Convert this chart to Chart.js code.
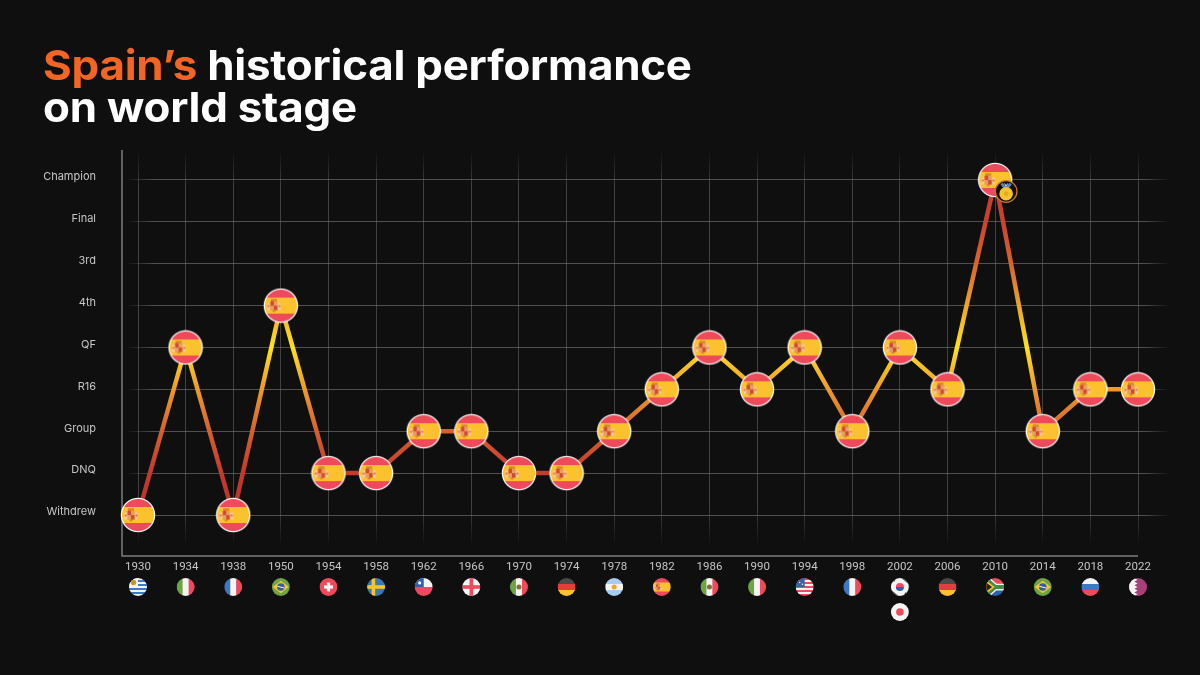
<!DOCTYPE html>
<html lang="en">
<head>
<meta charset="UTF-8">
<title>Spain's historical performance on world stage</title>
<script src="https://cdn.jsdelivr.net/npm/chart.js"></script>
<style>
    html, body { margin: 0; padding: 0; background: #0f0f10; }
    #wrap { position: relative; width: 1200px; height: 675px; overflow: hidden; }
    canvas { display: block; }
    h1 { position: absolute; left: 43px; top: 44px; margin: 0; color: #fff;
         font: 700 41px/42px Inter, sans-serif; letter-spacing: -0.2px;
         white-space: nowrap; transform: scaleX(1.07); transform-origin: left top; }
    h1 span { color: #f26522; }
</style>
</head>
<body>
<div id="wrap">
    <canvas id="chart" width="1200" height="675"></canvas>
    <h1><span>Spain’s</span> historical performance<br>on world stage</h1>
</div>
<script>
const years = ['1930','1934','1938','1950','1954','1958','1962','1966','1970','1974','1978','1982','1986','1990','1994','1998','2002','2006','2010','2014','2018','2022'];
const stages = ['Withdrew','DNQ','Group','R16','QF','4th','3rd','Final','Champion'];
const finish = [0,4,0,5,1,1,2,2,1,1,2,3,4,3,4,2,4,3,8,2,3,3];
const hosts = ['uy','it','fr','br','ch','se','cl','en','mx','de','ar','es','mx','it','us','fr','kr','de','za','br','ru','qa'];
const coHosts = { '2002': 'jp' };
const championYear = '2010';

// line colour by finish, Withdrew up to Champion
const lineColors = ['#b8322c','#c43a2b','#d2622e','#ec9a2a','#ffe21c','#eca52a','#d8642e','#c9442f','#c0362f'];

const RED = '#ee4a5c', YEL = '#fcc22d', BLUE = '#3c78c4', GREEN = '#6da544', WHITE = '#f4f4f4';

function hStripes(c, r, cols) {
    const h = 2 * r / cols.length;
    cols.forEach((col, i) => { c.fillStyle = col; c.fillRect(-r, -r + i * h, 2 * r, h + 0.5); });
}
function vStripes(c, r, cols) {
    const w = 2 * r / cols.length;
    cols.forEach((col, i) => { c.fillStyle = col; c.fillRect(-r + i * w, -r, w + 0.5, 2 * r); });
}
function dot(c, x, y, r, col) {
    c.fillStyle = col; c.beginPath(); c.arc(x, y, r, 0, Math.PI * 2); c.fill();
}
function spain(c, r) {
    hStripes(c, r, [RED, YEL, YEL, RED]);
    const s = r / 16;
    const box = (x, y, w, h, col) => { c.fillStyle = col; c.fillRect(x * s, y * s, w * s, h * s); };
    // crown
    box(-10, -6.8, 6, 2.4, '#d98a2b');
    // pillars
    box(-13.5, -2.5, 2.2, 7, '#f6cdbb');
    box(-2.6, -2.5, 2.2, 7, '#f6cdbb');
    dot(c, -12.4 * s, 0.5 * s, 1.1 * s, '#e8705a');
    dot(c, -1.5 * s, 0.5 * s, 1.1 * s, '#e8705a');
    // shield
    box(-10.5, -4.4, 7, 9, '#cf4a30');
    box(-7, -4.4, 3.5, 4.5, '#e89a68');
    box(-10.5, 0.1, 3.5, 4.4, '#e89a68');
    box(-8.4, 4.6, 2.8, 1.8, '#d98a2b');
}

const flags = {
    uy(c, r) {
        hStripes(c, r, [WHITE, BLUE, WHITE, BLUE, WHITE, BLUE, WHITE, BLUE, WHITE]);
        c.fillStyle = WHITE; c.fillRect(-r, -r, r, r);
        dot(c, -r * 0.5, -r * 0.5, r * 0.3, '#c9962d');
    },
    it(c, r) { vStripes(c, r, [GREEN, WHITE, RED]); },
    fr(c, r) { vStripes(c, r, [BLUE, WHITE, RED]); },
    br(c, r) {
        c.fillStyle = GREEN; c.fillRect(-r, -r, 2 * r, 2 * r);
        c.fillStyle = YEL; c.beginPath();
        c.moveTo(-r * 0.9, 0); c.lineTo(0, -r * 0.7); c.lineTo(r * 0.9, 0); c.lineTo(0, r * 0.7); c.fill();
        dot(c, 0, 0, r * 0.42, '#2f5f9e');
        c.strokeStyle = WHITE; c.lineWidth = 1; c.beginPath();
        c.moveTo(-r * 0.4, -r * 0.08); c.lineTo(r * 0.4, r * 0.12); c.stroke();
    },
    ch(c, r) {
        c.fillStyle = RED; c.fillRect(-r, -r, 2 * r, 2 * r);
        c.fillStyle = WHITE;
        c.fillRect(-r * 0.5, -r * 0.18, r, r * 0.36);
        c.fillRect(-r * 0.18, -r * 0.5, r * 0.36, r);
    },
    se(c, r) {
        c.fillStyle = '#3c78b4'; c.fillRect(-r, -r, 2 * r, 2 * r);
        c.fillStyle = YEL;
        c.fillRect(-r, -r * 0.2, 2 * r, r * 0.4);
        c.fillRect(-r * 0.5, -r, r * 0.4, 2 * r);
    },
    cl(c, r) {
        hStripes(c, r, [WHITE, RED]);
        c.fillStyle = '#2f5fa8'; c.fillRect(-r, -r, r, r);
        dot(c, -r * 0.45, -r * 0.45, r * 0.18, WHITE);
    },
    en(c, r) {
        c.fillStyle = WHITE; c.fillRect(-r, -r, 2 * r, 2 * r);
        c.fillStyle = RED;
        c.fillRect(-r, -r * 0.2, 2 * r, r * 0.4);
        c.fillRect(-r * 0.2, -r, r * 0.4, 2 * r);
    },
    mx(c, r) {
        vStripes(c, r, [GREEN, WHITE, RED]);
        dot(c, 0, 0, r * 0.28, '#8a6a3a');
    },
    de(c, r) { hStripes(c, r, ['#4a4a4a', '#e0403a', YEL]); },
    ar(c, r) {
        hStripes(c, r, ['#a4cdf0', WHITE, '#a4cdf0']);
        dot(c, 0, 0, r * 0.28, '#e8a92d');
    },
    es(c, r) { spain(c, r); },
    us(c, r) {
        hStripes(c, r, [RED, WHITE, RED, WHITE, RED, WHITE, RED, WHITE, RED]);
        c.fillStyle = '#3c5fa8'; c.fillRect(-r, -r, r, r);
        dot(c, -r * 0.55, -r * 0.5, 0.7, WHITE);
        dot(c, -r * 0.25, -r * 0.3, 0.7, WHITE);
    },
    kr(c, r) {
        c.fillStyle = WHITE; c.fillRect(-r, -r, 2 * r, 2 * r);
        c.fillStyle = RED; c.beginPath(); c.arc(0, 0, r * 0.45, Math.PI, 0); c.fill();
        c.fillStyle = '#2f5fa8'; c.beginPath(); c.arc(0, 0, r * 0.45, 0, Math.PI); c.fill();
        c.strokeStyle = '#333'; c.lineWidth = 1.6;
        [[-1, -1], [1, -1], [-1, 1], [1, 1]].forEach(p => {
            c.beginPath();
            c.moveTo(p[0] * r * 0.78 - p[1] * r * 0.2, p[1] * r * 0.62 + p[0] * r * 0.2);
            c.lineTo(p[0] * r * 0.5 + p[1] * r * 0.2, p[1] * r * 0.82 - p[0] * r * 0.2);
            c.stroke();
        });
    },
    za(c, r) {
        hStripes(c, r, [RED, '#2f5fa8']);
        c.lineJoin = 'miter';
        c.strokeStyle = WHITE; c.lineWidth = r * 0.75; yShape(c, r);
        c.strokeStyle = '#3f8f4a'; c.lineWidth = r * 0.45; yShape(c, r);
        c.fillStyle = YEL; c.beginPath();
        c.moveTo(-r, -r * 0.72); c.lineTo(-r * 0.05, 0); c.lineTo(-r, r * 0.72); c.fill();
        c.fillStyle = '#222'; c.beginPath();
        c.moveTo(-r, -r * 0.5); c.lineTo(-r * 0.35, 0); c.lineTo(-r, r * 0.5); c.fill();
    },
    ru(c, r) { hStripes(c, r, [WHITE, BLUE, RED]); },
    qa(c, r) {
        c.fillStyle = '#a8407a'; c.fillRect(-r, -r, 2 * r, 2 * r);
        c.fillStyle = WHITE; c.beginPath(); c.moveTo(-r, -r);
        const n = 5, x0 = -r * 0.4, x1 = -r * 0.05;
        c.lineTo(x0, -r);
        for (let i = 0; i < n; i++) {
            c.lineTo(x1, -r + (i + 0.5) * 2 * r / n);
            c.lineTo(x0, -r + (i + 1) * 2 * r / n);
        }
        c.lineTo(-r, r); c.fill();
    },
    jp(c, r) {
        c.fillStyle = WHITE; c.fillRect(-r, -r, 2 * r, 2 * r);
        dot(c, 0, 0, r * 0.42, RED);
    }
};
function yShape(c, r) {
    c.beginPath();
    c.moveTo(-r, -r * 0.9); c.lineTo(0, 0); c.lineTo(r, 0);
    c.moveTo(-r, r * 0.9); c.lineTo(0, 0);
    c.stroke();
}

function drawFlag(c, code, x, y, r) {
    c.save();
    c.translate(x, y);
    c.beginPath(); c.arc(0, 0, r, 0, Math.PI * 2); c.clip();
    flags[code](c, r);
    c.restore();
}

// marker used for every point, drawn large then shrunk so the crest stays soft
const big = document.createElement('canvas');
big.width = 144; big.height = 144;
const bc = big.getContext('2d');
bc.scale(4, 4);
dot(bc, 18, 18, 17.2, '#ffffff');
drawFlag(bc, 'es', 18, 18, 16);
const marker = document.createElement('canvas');
marker.width = 36; marker.height = 36;
const mc = marker.getContext('2d');
mc.imageSmoothingQuality = 'high';
mc.drawImage(big, 0, 0, 36, 36);

const axisLines = {
    id: 'axisLines',
    beforeDatasetsDraw(chart) {
        const c = chart.ctx, xs = chart.scales.x, a = chart.chartArea;
        c.save();
        c.strokeStyle = '#7d7d7d';
        c.lineWidth = 1.5;
        c.beginPath();
        c.moveTo(a.left, a.top);
        c.lineTo(a.left, a.bottom);
        c.lineTo(xs.getPixelForValue(years.length - 1), a.bottom);
        c.stroke();
        c.restore();
    }
};

const hostFlags = {
    id: 'hostFlags',
    afterDraw(chart) {
        const c = chart.ctx, xs = chart.scales.x;
        hosts.forEach((code, i) => {
            const x = xs.getPixelForValue(i);
            drawFlag(c, code, x, 587, 9);
            if (coHosts[years[i]]) drawFlag(c, coHosts[years[i]], x, 612, 9);
        });
    }
};

const medal = {
    id: 'medal',
    afterDatasetsDraw(chart) {
        const c = chart.ctx, i = years.indexOf(championYear);
        const x = chart.scales.x.getPixelForValue(i) + 11;
        const y = chart.scales.y.getPixelForValue(finish[i]) + 11.5;
        c.save();
        c.beginPath(); c.arc(x, y, 10.8, 0, Math.PI * 2);
        c.fillStyle = '#0f0f10'; c.fill();
        c.strokeStyle = '#c9772c'; c.lineWidth = 1.3; c.stroke();
        c.lineWidth = 2.8;
        c.strokeStyle = '#5d86c8';
        c.beginPath(); c.moveTo(x - 4.5, y - 8); c.lineTo(x, y - 2); c.lineTo(x + 4.5, y - 8); c.stroke();
        c.strokeStyle = '#dfe6f2'; c.lineWidth = 1;
        c.beginPath(); c.moveTo(x - 1.5, y - 8); c.lineTo(x, y - 5); c.lineTo(x + 1.5, y - 8); c.stroke();
        dot(c, x, y + 2.2, 6.8, '#f7c52b');
        dot(c, x, y + 2.2, 2.4, '#e6a823');
        c.restore();
    }
};

function fadeY(chart, col) {
    const a = chart.chartArea;
    if (!a) return col;
    const g = chart.ctx.createLinearGradient(0, a.top, 0, a.bottom);
    g.addColorStop(0, 'rgba(110,110,110,0)');
    g.addColorStop(0.09, col);
    g.addColorStop(0.88, col);
    g.addColorStop(0.975, 'rgba(110,110,110,0)');
    return g;
}
function fadeX(chart, col) {
    const a = chart.chartArea;
    if (!a) return col;
    const g = chart.ctx.createLinearGradient(a.left, 0, a.right, 0);
    g.addColorStop(0.004, 'rgba(120,120,120,0)');
    g.addColorStop(0.03, col);
    g.addColorStop(0.975, col);
    g.addColorStop(1, 'rgba(120,120,120,0)');
    return g;
}

new Chart(document.getElementById('chart'), {
    type: 'line',
    data: {
        datasets: [{
            data: finish.map((v, i) => ({ x: i, y: v })),
            borderWidth: 4.5,
            borderColor(ctx) {
                const ys = ctx.chart.scales.y;
                if (!ctx.chart.chartArea || !ys) return lineColors[2];
                const g = ctx.chart.ctx.createLinearGradient(0, ys.getPixelForValue(stages.length - 1), 0, ys.getPixelForValue(0));
                lineColors.forEach((col, r) => g.addColorStop(1 - r / (stages.length - 1), col));
                return g;
            },
            tension: 0,
            clip: false,
            pointStyle: marker,
            pointRadius: 18,
            pointHoverRadius: 18
        }]
    },
    options: {
        responsive: false,
        animation: false,
        events: [],
        layout: { padding: { top: 150, right: 30, left: 0, bottom: 0 } },
        plugins: { legend: { display: false }, tooltip: { enabled: false }, title: { display: false } },
        scales: {
            x: {
                type: 'linear',
                min: -0.336,
                max: 21.672,
                afterBuildTicks(s) { s.ticks = years.map((y, i) => ({ value: i })); },
                afterFit(s) { s.height = 119; },
                border: { display: false },
                grid: {
                    drawTicks: false,
                    lineWidth: 1,
                    color: ctx => fadeY(ctx.chart, 'rgba(110,110,110,0.55)')
                },
                ticks: {
                    callback: v => years[v],
                    autoSkip: false,
                    maxRotation: 0,
                    padding: 4,
                    color: '#c6c6c6',
                    font: { family: 'Roboto', size: 11.5 }
                }
            },
            y: {
                type: 'linear',
                min: -0.979,
                max: 8.716,
                afterBuildTicks(s) { s.ticks = stages.map((n, i) => ({ value: i })); },
                afterFit(s) { s.width = 122; },
                border: { display: false },
                grid: {
                    drawTicks: false,
                    lineWidth: 1,
                    color: ctx => fadeX(ctx.chart, 'rgba(120,120,120,0.62)')
                },
                ticks: {
                    callback: v => stages[v],
                    autoSkip: false,
                    padding: 26,
                    labelOffset: -3,
                    color: '#c6c6c6',
                    font: { family: 'Inter', size: 11 }
                }
            }
        }
    },
    plugins: [axisLines, hostFlags, medal]
});
</script>
</body>
</html>
